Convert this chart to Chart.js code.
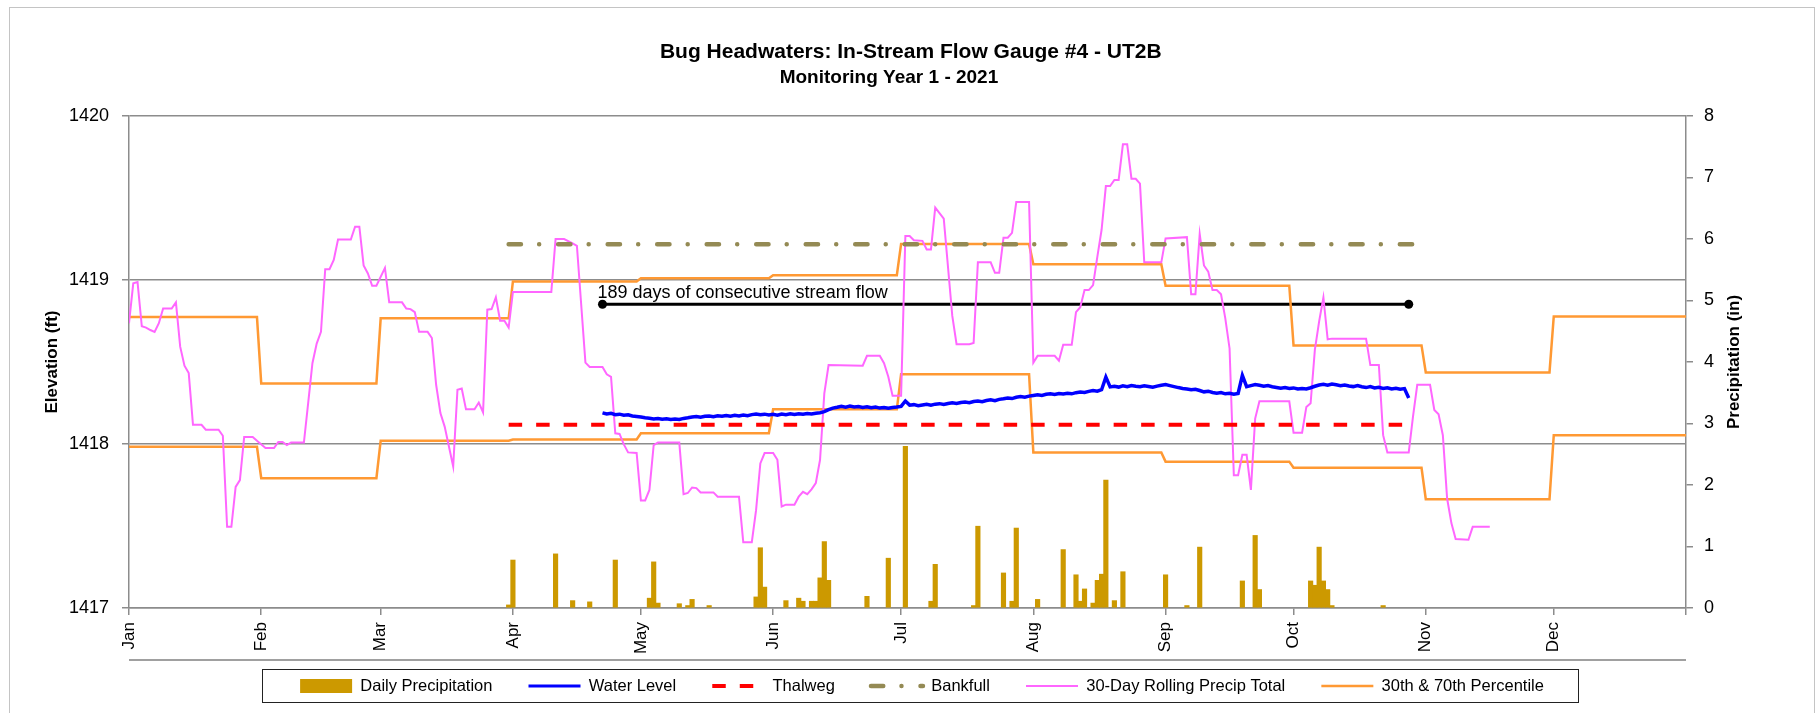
<!DOCTYPE html>
<html>
<head>
<meta charset="utf-8">
<title>Bug Headwaters: In-Stream Flow Gauge #4 - UT2B</title>
<script src="https://cdn.jsdelivr.net/npm/chart.js@4/dist/chart.umd.min.js"></script>
<style>
  html, body { margin: 0; padding: 0; background: #fff; }
  #chart { display: block; }
</style>
</head>
<body>
<canvas id="chart" width="1820" height="713"></canvas>
<script>
// x values are days counted from Jan 1 2021 (day 0)
const monthNames = ['Jan', 'Feb', 'Mar', 'Apr', 'May', 'Jun', 'Jul', 'Aug', 'Sep', 'Oct', 'Nov', 'Dec'];
const monthStartDays = [0, 31, 59, 90, 120, 151, 181, 212, 243, 273, 304, 334, 365];

// monthly 70th / 30th percentile of 30-day precip (in)
const pct70 = [4.73, 3.65, 4.71, 5.31, 5.36, 5.41, 5.92, 5.59, 5.24, 4.27, 3.83, 4.74];
const pct30 = [2.62, 2.11, 2.72, 2.74, 2.84, 3.23, 3.80, 2.53, 2.38, 2.28, 1.77, 2.81];

// daily precipitation (in)
const precipDays = [89, 90, 100, 104, 108, 114, 122, 123, 124, 129, 131, 132, 136, 147, 148, 149,
  154, 157, 158, 160, 161, 162, 163, 164, 173, 178, 182, 188, 189, 198, 199, 205, 207, 208, 213,
  219, 222, 223, 224, 226, 227, 228, 229, 231, 233, 243, 248, 251, 261, 264, 265, 277, 278, 279,
  280, 281, 282, 294];
const precipInches = [0.05, 0.78, 0.88, 0.12, 0.10, 0.78, 0.16, 0.75, 0.08, 0.07, 0.04, 0.14, 0.04, 0.18, 0.98, 0.34,
  0.12, 0.16, 0.11, 0.11, 0.11, 0.49, 1.08, 0.45, 0.19, 0.81, 2.63, 0.11, 0.71, 0.04, 1.33, 0.57, 0.11, 1.30, 0.14,
  0.95, 0.54, 0.11, 0.31, 0.08, 0.45, 0.55, 2.08, 0.12, 0.59, 0.54, 0.04, 0.99, 0.44, 1.18, 0.30, 0.44, 0.37, 0.99,
  0.44, 0.30, 0.04, 0.04];

// gauge water level (ft), one value a day from day 111 (Apr 22) to day 300 (Oct 28)
const waterLevelStartDay = 111;
const waterLevel = [
  1418.190, 1418.183, 1418.187, 1418.179, 1418.182, 1418.176, 1418.178, 1418.171, 1418.168, 1418.164,
  1418.160, 1418.157, 1418.153, 1418.156, 1418.151, 1418.154, 1418.149, 1418.153, 1418.150, 1418.156,
  1418.160, 1418.165, 1418.168, 1418.163, 1418.169, 1418.171, 1418.166, 1418.172, 1418.169, 1418.174,
  1418.170, 1418.175, 1418.171, 1418.177, 1418.173, 1418.179, 1418.183, 1418.178, 1418.182, 1418.177,
  1418.181, 1418.176, 1418.183, 1418.179, 1418.184, 1418.180, 1418.185, 1418.181, 1418.186, 1418.183,
  1418.188, 1418.191, 1418.197, 1418.209, 1418.219, 1418.224, 1418.230, 1418.225, 1418.231, 1418.226,
  1418.229, 1418.223, 1418.227, 1418.221, 1418.225, 1418.219, 1418.223, 1418.218, 1418.222, 1418.225,
  1418.229, 1418.262, 1418.237, 1418.240, 1418.234, 1418.238, 1418.242, 1418.237, 1418.243, 1418.246,
  1418.241, 1418.247, 1418.251, 1418.247, 1418.253, 1418.256, 1418.252, 1418.259, 1418.262, 1418.258,
  1418.265, 1418.269, 1418.264, 1418.272, 1418.276, 1418.281, 1418.277, 1418.285, 1418.289, 1418.285,
  1418.292, 1418.296, 1418.300, 1418.296, 1418.303, 1418.306, 1418.302, 1418.308, 1418.305, 1418.310,
  1418.306, 1418.313, 1418.317, 1418.314, 1418.321, 1418.326, 1418.322, 1418.331, 1418.408, 1418.348,
  1418.352, 1418.347, 1418.355, 1418.350, 1418.357, 1418.352, 1418.349, 1418.355, 1418.351, 1418.346,
  1418.353, 1418.358, 1418.362, 1418.356, 1418.350, 1418.344, 1418.339, 1418.335, 1418.331, 1418.334,
  1418.326, 1418.318, 1418.322, 1418.314, 1418.310, 1418.314, 1418.306, 1418.309, 1418.303, 1418.308,
  1418.418, 1418.350, 1418.356, 1418.362, 1418.358, 1418.352, 1418.356, 1418.349, 1418.345, 1418.340,
  1418.344, 1418.338, 1418.342, 1418.335, 1418.339, 1418.336, 1418.343, 1418.352, 1418.360, 1418.364,
  1418.358, 1418.366, 1418.361, 1418.356, 1418.360, 1418.354, 1418.350, 1418.356, 1418.349, 1418.344,
  1418.350, 1418.342, 1418.346, 1418.339, 1418.343, 1418.336, 1418.340, 1418.334, 1418.338, 1418.280
];

const thalwegDays = [89, 301];
const thalwegElev = 1418.118;
const bankfullDays = [89, 301];
const bankfullElev = 1419.218;

const flowDays = [111, 300];
const flowElev = 1418.852;
const flowNote = '189 days of consecutive stream flow';

// 30-day rolling precip total (in), read at the corners of the line
const rollDays = [0, 1, 2, 3, 4, 5, 6, 7, 8, 10, 11, 12, 13, 14, 15, 17, 18, 21, 22, 23, 24, 25, 26, 27, 29,
  30, 32, 34, 35, 36, 37, 38, 41, 42, 43, 44, 45, 46, 47, 48, 49, 52, 53, 54, 55, 56, 57, 58, 60, 61, 64,
  65, 66, 67, 68, 70, 71, 72, 73, 74, 76, 77, 78, 79, 81, 82, 83, 84, 85, 86, 87, 88, 89, 90, 99, 100, 102,
  104, 105, 107, 108, 111, 112, 113, 114, 115, 116, 117, 119, 120, 121, 122, 123, 124, 129, 130, 131, 132,
  133, 134, 137, 138, 143, 144, 146, 147, 148, 149, 151, 152, 153, 154, 156, 157, 158, 159, 160, 161, 162,
  163, 164, 172, 173, 176, 177, 178, 179, 181, 182, 183, 184, 186, 187, 188, 189, 190, 191, 193, 194, 197,
  198, 199, 202, 203, 204, 205, 206, 207, 208, 211, 212, 213, 217, 218, 219, 221, 222, 223, 224, 225, 226,
  227, 228, 229, 230, 231, 232, 233, 234, 235, 236, 237, 238, 242, 243, 248, 249, 250, 251, 252, 253, 254,
  255, 256, 257, 258, 259, 260, 261, 262, 263, 264, 265, 272, 273, 275, 276, 277, 278, 279, 280, 281, 282,
  290, 291, 293, 294, 295, 300, 301, 302, 305, 306, 307, 308, 309, 310, 311, 314, 315, 319];
const rollPrecip = [4.63, 5.28, 5.30, 4.58, 4.56, 4.52, 4.49, 4.63, 4.87, 4.87, 4.97, 4.25, 3.94, 3.82, 2.98, 2.98, 2.90, 2.90, 2.80, 1.32, 1.32, 1.97, 2.08, 2.78, 2.78,
  2.72, 2.60, 2.60, 2.70, 2.70, 2.65, 2.69, 2.69, 3.33, 3.98, 4.30, 4.49, 5.51, 5.51, 5.66, 5.99, 5.99, 6.20, 6.20, 5.57, 5.44, 5.24, 5.24, 5.53, 4.97, 4.97,
  4.87, 4.86, 4.81, 4.49, 4.49, 4.39, 3.63, 3.17, 2.95, 2.30, 3.55, 3.57, 3.23, 3.23, 3.34, 3.18, 4.85, 4.86, 5.05, 4.67, 4.67, 4.56, 5.14, 5.14, 6.00, 6.00,
  5.93, 5.89, 3.99, 3.92, 3.92, 3.80, 3.76, 2.84, 2.83, 2.66, 2.53, 2.52, 1.75, 1.75, 1.92, 2.65, 2.69, 2.69, 1.85, 1.87, 1.96,
  1.95, 1.88, 1.88, 1.81, 1.81, 1.07, 1.07, 1.59, 2.35, 2.52, 2.52, 2.41, 1.65, 1.68, 1.68, 1.81, 1.89, 1.85, 1.93, 2.03, 2.41,
  3.49, 3.95, 3.94, 4.10, 4.10, 3.98, 3.76, 3.45, 3.45, 6.05, 6.05, 5.98, 5.97, 5.83, 5.83, 6.51, 6.42, 6.33, 4.75, 4.29, 4.29,
  4.31, 5.62, 5.62, 5.45, 5.45, 6.02, 6.02, 6.10, 6.60, 6.60, 3.99, 4.10, 4.10, 4.02, 4.28, 4.28, 4.81, 4.89, 5.17, 5.17, 5.25,
  5.71, 6.15, 6.86, 6.86, 6.96, 6.96, 7.54, 7.54, 6.98, 6.98, 6.90, 5.62, 5.62, 6.01, 6.03, 5.10, 5.10, 6.08, 5.57, 5.47, 5.17,
  5.17, 5.10, 4.71, 4.22, 2.16, 2.16, 2.49, 2.49, 1.92, 3.08, 3.36, 3.36, 2.85, 2.85, 3.27, 3.33, 4.20, 4.66, 5.05, 4.37, 4.38,
  4.38, 3.95, 3.95, 2.81, 2.53, 2.53, 3.11, 3.63, 3.63, 3.22, 3.15, 2.81, 1.78, 1.38, 1.12, 1.11, 1.32, 1.32];

const fontFamily = "'Liberation Sans', Arial, sans-serif";
const gridColor = '#8c8c8c';
const legendFontSize = 16.5;
const legendTail = '    '; // widens the gap between legend entries

Chart.defaults.font.family = fontFamily;
Chart.defaults.color = '#000';

function toPoints(days, values) {
    return days.map((d, i) => ({ x: d, y: values[i] }));
}

function flatLine(days, value) {
    return days.map(d => ({ x: d, y: value }));
}

// each month's value held from its first to its last day
function monthlySteps(values) {
    let pts = [];
    values.forEach((v, i) => {
        let end = i == values.length - 1 ? monthStartDays[i + 1] : monthStartDays[i + 1] - 1;
        pts.push({ x: monthStartDays[i], y: v }, { x: end, y: v });
    });
    return pts;
}

let waterPoints = waterLevel.map((v, i) => ({ x: waterLevelStartDay + i, y: v }));

let datasets = [
    {
        type: 'bar', label: 'Daily Precipitation', yAxisID: 'y2',
        data: toPoints(precipDays, precipInches),
        backgroundColor: '#CC9900', borderWidth: 0, barThickness: 4.5
    },
    {
        label: 'Water Level', yAxisID: 'y', data: waterPoints,
        borderColor: '#0000FF', backgroundColor: '#0000FF', borderWidth: 3.5, legendWidth: 3
    },
    {
        label: 'Thalweg', yAxisID: 'y', data: flatLine(thalwegDays, thalwegElev),
        borderColor: '#FF0000', backgroundColor: '#FF0000', borderWidth: 4, borderDash: [13.5, 14]
    },
    {
        label: 'Bankfull', yAxisID: 'y', data: flatLine(bankfullDays, bankfullElev),
        borderColor: '#948A54', backgroundColor: '#948A54', borderWidth: 4.5,
        borderDash: [12.3, 18.2, 0.01, 19], borderCapStyle: 'round'
    },
    {
        label: '30-Day Rolling Precip Total', yAxisID: 'y2', data: toPoints(rollDays, rollPrecip),
        borderColor: '#FF66FF', backgroundColor: '#FF66FF', borderWidth: 2
    },
    {
        label: '30th & 70th Percentile', yAxisID: 'y2', data: monthlySteps(pct70),
        borderColor: '#FF9933', backgroundColor: '#FF9933', borderWidth: 2.5
    },
    {
        label: '30th Percentile', yAxisID: 'y2', data: monthlySteps(pct30), legendHidden: true,
        borderColor: '#FF9933', backgroundColor: '#FF9933', borderWidth: 2.5
    },
    {
        label: 'Consecutive flow', yAxisID: 'y', data: flatLine(flowDays, flowElev), legendHidden: true,
        borderColor: '#000000', backgroundColor: '#000000', borderWidth: 3,
        pointRadius: 4.5, pointBackgroundColor: '#000000', pointBorderWidth: 0
    }
];

const decorations = {
    id: 'decorations',
    beforeDraw(chart) {
        let ctx = chart.ctx;
        ctx.save();
        ctx.fillStyle = '#fff';
        ctx.fillRect(0, 0, chart.width, chart.height);
        ctx.strokeStyle = '#c4c4c4';
        ctx.lineWidth = 1;
        ctx.strokeRect(9.5, 7.5, chart.width - 15, chart.height + 10);
        ctx.restore();
    },
    afterDraw(chart) {
        let { ctx, chartArea, scales, legend } = chart;

        // right axis title, reading upward like the left one
        ctx.save();
        ctx.font = 'bold 17px ' + fontFamily;
        ctx.fillStyle = '#000';
        ctx.textAlign = 'center';
        ctx.textBaseline = 'middle';
        ctx.translate(chartArea.right + 48, (chartArea.top + chartArea.bottom) / 2);
        ctx.rotate(-Math.PI / 2);
        ctx.fillText('Precipitation (in)', 0, 0);
        ctx.restore();

        // note over the flow line
        ctx.save();
        ctx.font = '18px ' + fontFamily;
        ctx.fillStyle = '#000';
        ctx.textAlign = 'left';
        ctx.textBaseline = 'alphabetic';
        ctx.fillText(flowNote, scales.x.getPixelForValue(flowDays[0]) - 5, scales.y.getPixelForValue(flowElev) - 6);
        ctx.restore();

        // rule under the month labels and the box round the legend
        let boxes = legend.legendHitBoxes;
        let last = boxes[boxes.length - 1];
        let cy = legend.top + legend.options.labels.padding + legendFontSize / 2;
        ctx.save();
        ctx.font = legendFontSize + 'px ' + fontFamily;
        let tailWidth = ctx.measureText(legendTail).width;
        ctx.strokeStyle = '#a0a0a0';
        ctx.lineWidth = 2;
        ctx.beginPath();
        ctx.moveTo(chartArea.left, Math.round(cy - 26));
        ctx.lineTo(chartArea.right, Math.round(cy - 26));
        ctx.stroke();
        let left = Math.round(boxes[0].left - 38) + 0.5;
        let right = Math.round(last.left + last.width - tailWidth + 34) + 0.5;
        ctx.strokeStyle = '#222';
        ctx.lineWidth = 1;
        ctx.strokeRect(left, Math.round(cy - 17) + 0.5, right - left, 33);
        ctx.restore();
    }
};

new Chart(document.getElementById('chart'), {
    type: 'line',
    data: { datasets: datasets },
    options: {
        responsive: false,
        animation: false,
        devicePixelRatio: 1,
        layout: { padding: { left: 42.4, right: 0, top: 0, bottom: 8.75 } },
        elements: {
            point: { radius: 0 },
            line: { tension: 0, fill: false }
        },
        plugins: {
            // trailing spaces nudge the centred text left, as in the original
            title: {
                display: true,
                text: 'Bug Headwaters: In-Stream Flow Gauge #4 - UT2B' + ' '.repeat(7),
                font: { size: 21, weight: 'bold' }, color: '#000',
                padding: { top: 39.4, bottom: 0 }
            },
            subtitle: {
                display: true,
                text: 'Monitoring Year 1 - 2021' + ' '.repeat(16),
                font: { size: 19, weight: 'bold' }, color: '#000',
                padding: { top: 2, bottom: 26.6 }
            },
            legend: {
                position: 'bottom',
                labels: {
                    usePointStyle: true,
                    pointStyleWidth: 52,
                    boxHeight: 14,
                    padding: 17.75,
                    color: '#000',
                    font: { size: legendFontSize },
                    generateLabels: function(chart) {
                        return chart.data.datasets
                            .map((ds, i) => ({
                                text: ds.label + legendTail,
                                datasetIndex: i,
                                fillStyle: ds.backgroundColor,
                                strokeStyle: ds.borderColor,
                                lineWidth: ds.type == 'bar' ? 0 : (ds.legendWidth || ds.borderWidth),
                                lineDash: ds.borderDash || [],
                                lineCap: ds.borderCapStyle || 'butt',
                                pointStyle: ds.type == 'bar' ? 'rect' : 'line',
                                fontColor: '#000',
                                hidden: false
                            }))
                            .filter(item => !chart.data.datasets[item.datasetIndex].legendHidden);
                    }
                }
            },
            tooltip: { enabled: false }
        },
        scales: {
            x: {
                type: 'linear', position: 'bottom', min: 0, max: 365, offset: false,
                afterBuildTicks: function(scale) {
                    scale.ticks = monthStartDays.map(v => ({ value: v }));
                },
                afterFit: function(scale) { scale.height = 52; },
                ticks: {
                    autoSkip: false, minRotation: 90, maxRotation: 90, padding: 7,
                    font: { size: 17 }, color: '#000',
                    callback: (value, index) => monthNames[index] || ''
                },
                grid: { drawOnChartArea: false, offset: false, tickLength: 7, color: gridColor, lineWidth: 1.5 },
                border: { color: gridColor, width: 1.5 }
            },
            y: {
                position: 'left', min: 1417, max: 1420,
                afterFit: function(scale) { scale.width = 86.6; },
                ticks: { stepSize: 1, padding: 13, font: { size: 18 }, color: '#000', callback: v => String(v) },
                grid: { color: gridColor, lineWidth: 1.5, tickLength: 7 },
                border: { color: gridColor, width: 1.5 },
                title: {
                    display: true, text: 'Elevation (ft)', color: '#000',
                    font: { size: 17, weight: 'bold' }, padding: { top: -0.6, bottom: 0 }
                }
            },
            y2: {
                position: 'right', min: 0, max: 8,
                afterFit: function(scale) { scale.width = 134; },
                ticks: { stepSize: 1, padding: 11, font: { size: 18 }, color: '#000' },
                grid: { drawOnChartArea: false, color: gridColor, lineWidth: 1.5, tickLength: 7 },
                border: { color: gridColor, width: 1.5 }
            }
        }
    },
    plugins: [decorations]
});
</script>
</body>
</html>
